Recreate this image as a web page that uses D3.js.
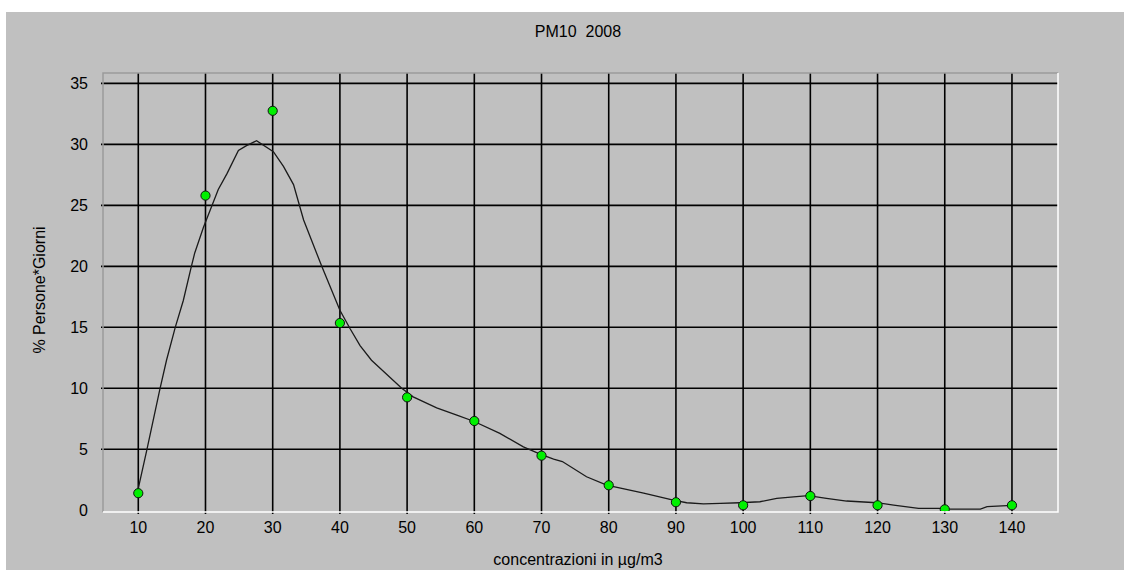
<!DOCTYPE html>
<html>
<head>
<meta charset="utf-8">
<script src="https://cdn.jsdelivr.net/npm/d3@7"></script>
<style>
    html, body { margin: 0; padding: 0; background: #fff; }
    svg { display: block; }
    text { font-family: "Liberation Sans", Arial, sans-serif; fill: #000; white-space: pre; }
</style>
</head>
<body>
<svg width="1124" height="570"></svg>
<script>
const title = 'PM10  2008';
const xTitle = 'concentrazioni in µg/m3';
const yTitle = '% Persone*Giorni';

const concentrations = [10, 20, 30, 40, 50, 60, 70, 80, 90, 100, 110, 120, 130, 140];
const percentValues = [1.4, 25.8, 32.75, 15.35, 9.26, 7.32, 4.48, 2.05, 0.66, 0.41, 1.17, 0.41, 0.08, 0.41];
const yTicks = [0, 5, 10, 15, 20, 25, 30, 35];

// smoothed curve
const curveX = [10, 11.25, 13.2, 14.2, 15.5, 16.7, 17.9, 18.4, 19.7, 21.9, 23.2, 24.9, 26.1, 27.6, 30.1, 31.6, 33.1, 34.6,
    37.3, 40, 41.5, 43, 44.7, 49.2, 50.9, 54.4, 57.4, 59.9, 63.8, 67.3, 69.8, 71.8, 73.1, 76.7, 79.7, 85.2, 89.6, 91.6,
    94.1, 96.6, 99.5, 102.5, 105, 107.5, 109.7, 112.4, 115.4, 119.9, 122.4, 126.1, 129.3, 130.8, 135.3, 136.3, 140];
const curveY = [1.8, 4.9, 9.9, 12.3, 15, 17.2, 20, 21.1, 23.2, 26.3, 27.6, 29.5, 29.9, 30.3, 29.4, 28.2, 26.7, 23.8,
    20, 16.4, 14.9, 13.5, 12.3, 10, 9.3, 8.4, 7.8, 7.3, 6.3, 5.2, 4.6, 4.2, 4, 2.75, 2.07, 1.4, 0.84, 0.62,
    0.52, 0.57, 0.62, 0.7, 0.98, 1.1, 1.2, 0.98, 0.76, 0.62, 0.43, 0.16, 0.16, 0.1, 0.1, 0.3, 0.4];

const svg = d3.select('svg');
const WIDTH = 1124;
const HEIGHT = 570;
const plot = { left: 103, top: 73, right: 1058, bottom: 512 };

const xScale = d3.scaleLinear().domain([4.75, 146.85]).range([plot.left, plot.right]);
const yScale = d3.scaleLinear().domain([-0.14, 35.85]).range([plot.bottom, plot.top]);

svg.append('rect')
    .attr('x', 6).attr('y', 12)
    .attr('width', WIDTH - 6).attr('height', HEIGHT - 12)
    .attr('fill', '#c0c0c0');

svg.append('defs').append('clipPath').attr('id', 'plot-clip')
    .append('rect')
    .attr('x', plot.left).attr('y', plot.top)
    .attr('width', plot.right - plot.left).attr('height', plot.bottom - plot.top - 1);

// grid
svg.append('g').selectAll('line')
    .data(yTicks.filter(d => d > 0))
    .join('line')
    .attr('x1', plot.left - 2).attr('x2', plot.right)
    .attr('y1', d => yScale(d)).attr('y2', d => yScale(d))
    .attr('stroke', '#000').attr('stroke-width', 1.6);

svg.append('g').selectAll('line')
    .data(concentrations)
    .join('line')
    .attr('x1', d => xScale(d)).attr('x2', d => xScale(d))
    .attr('y1', plot.top).attr('y2', plot.bottom + 2)
    .attr('stroke', '#000').attr('stroke-width', 1.6);

// frame: dark top/left, white bottom/right
svg.append('path')
    .attr('d', `M${plot.left},${plot.bottom}V${plot.top}H${plot.right}`)
    .attr('fill', 'none').attr('stroke', '#9a9a9a').attr('stroke-width', 1.5);
svg.append('path')
    .attr('d', `M${plot.left},${plot.bottom}H${plot.right}V${plot.top}`)
    .attr('fill', 'none').attr('stroke', '#fff').attr('stroke-width', 1.5);

// curve
const line = d3.line()
    .x(d => xScale(d[0]))
    .y(d => yScale(d[1]));

svg.append('path')
    .datum(d3.zip(curveX, curveY))
    .attr('d', line)
    .attr('fill', 'none')
    .attr('stroke', '#1a1a1a')
    .attr('stroke-width', 1.3);

// points
svg.append('g').attr('clip-path', 'url(#plot-clip)')
    .selectAll('circle')
    .data(d3.zip(concentrations, percentValues))
    .join('circle')
    .attr('cx', d => xScale(d[0]))
    .attr('cy', d => yScale(d[1]))
    .attr('r', 4.6)
    .attr('fill', '#00f000')
    .attr('stroke', '#111')
    .attr('stroke-width', 1);

// tick labels
svg.append('g').selectAll('text')
    .data(concentrations)
    .join('text')
    .attr('x', d => xScale(d))
    .attr('y', 533)
    .attr('text-anchor', 'middle')
    .attr('font-size', 16)
    .text(d => d);

svg.append('g').selectAll('text')
    .data(yTicks)
    .join('text')
    .attr('x', 88)
    .attr('y', d => yScale(d) + 5.5)
    .attr('text-anchor', 'end')
    .attr('font-size', 16)
    .text(d => d);

// titles
svg.append('text')
    .attr('x', 578).attr('y', 37)
    .attr('text-anchor', 'middle')
    .attr('font-size', 16)
    .text(title);

svg.append('text')
    .attr('x', 578).attr('y', 565)
    .attr('text-anchor', 'middle')
    .attr('font-size', 16)
    .text(xTitle);

svg.append('text')
    .attr('transform', 'translate(45,290) rotate(-90)')
    .attr('text-anchor', 'middle')
    .attr('font-size', 16)
    .text(yTitle);
</script>
</body>
</html>
